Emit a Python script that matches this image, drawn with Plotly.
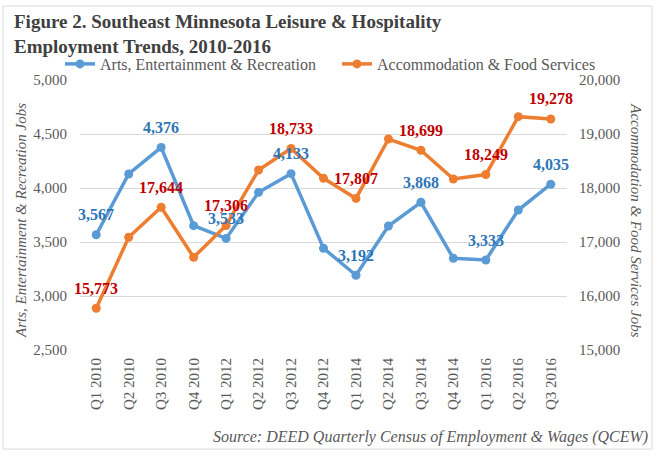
import plotly.graph_objects as go

categories = ["Q1 2010", "Q2 2010", "Q3 2010", "Q4 2010", "Q1 2012", "Q2 2012", "Q3 2012",
              "Q4 2012", "Q1 2014", "Q2 2014", "Q3 2014", "Q4 2014", "Q1 2016", "Q2 2016", "Q3 2016"]
arts = [3567, 4130, 4376, 3651, 3533, 3960, 4133, 3442, 3192, 3648, 3868, 3349, 3333, 3796, 4035]
accom = [15773, 17087, 17644, 16717, 17306, 18333, 18733, 18180, 17807, 18907, 18699, 18167, 18249, 19321, 19278]
label_idx = [0, 2, 4, 6, 8, 10, 12, 14]

arts_name = "Arts, Entertainment & Recreation"
accom_name = "Accommodation & Food Services"
title = "Figure 2. Southeast Minnesota Leisure & Hospitality<br>Employment Trends, 2010-2016"
source = "Source: DEED Quarterly Census of Employment & Wages (QCEW)"

FONT = "Liberation Serif"
GRAY = "#595959"
BLUE = "#5B9BD5"
ORANGE = "#ED7D31"
BLUE_LBL = "#2E75B6"
RED_LBL = "#C00000"

fig = go.Figure()
fig.add_trace(go.Scatter(x=categories, y=arts, name=arts_name, mode="lines+markers",
                         line=dict(color=BLUE, width=3.5), marker=dict(size=9, color=BLUE),
                         yaxis="y", legend="legend"))
fig.add_trace(go.Scatter(x=categories, y=accom, name=accom_name, mode="lines+markers",
                         line=dict(color=ORANGE, width=3.5), marker=dict(size=9, color=ORANGE),
                         yaxis="y2", legend="legend2"))

annotations = []
for i in label_idx:
    annotations.append(dict(x=categories[i], y=arts[i], xref="x", yref="y", text=f"{arts[i]:,}",
                            showarrow=False, yshift=20,
                            font=dict(family=FONT, size=16, color=BLUE_LBL, weight="bold")))
    annotations.append(dict(x=categories[i], y=accom[i], xref="x", yref="y2", text=f"{accom[i]:,}",
                            showarrow=False, yshift=20,
                            font=dict(family=FONT, size=16, color=RED_LBL, weight="bold")))

# title
annotations.append(dict(x=-0.1396, y=1.262, xref="paper", yref="paper", xanchor="left", yanchor="top",
                        align="left", text="<b>" + title + "</b>", showarrow=False,
                        font=dict(family=FONT, size=19, color="#404040")))
# axis titles
annotations.append(dict(x=-0.12, y=0.48, xref="paper", yref="paper", xanchor="center", yanchor="middle",
                        text="<i>Arts, Entertainment & Recreation Jobs</i>", textangle=-90, showarrow=False,
                        font=dict(family=FONT, size=15, color=GRAY)))
annotations.append(dict(x=1.14, y=0.48, xref="paper", yref="paper", xanchor="center", yanchor="middle",
                        text="<i>Accommodation & Food Services Jobs</i>", textangle=90, showarrow=False,
                        font=dict(family=FONT, size=15, color=GRAY)))
# source
annotations.append(dict(x=1.17, y=-0.322, xref="paper", yref="paper", xanchor="right", yanchor="middle",
                        text="<i>" + source + "</i>", showarrow=False,
                        font=dict(family=FONT, size=16, color=GRAY)))

legend_common = dict(orientation="h", yref="container", y=1 - 64 / 458, yanchor="middle",
                     xref="container", xanchor="left",
                     font=dict(family=FONT, size=16, color=GRAY), bgcolor="rgba(0,0,0,0)",
                     itemwidth=30)

fig.update_layout(
    width=661, height=458,
    margin=dict(l=80, r=94, t=80, b=108, autoexpand=False),
    paper_bgcolor="white", plot_bgcolor="white",
    font=dict(family=FONT, color=GRAY, size=15),
    showlegend=True,
    legend=dict(legend_common, x=60 / 661),
    legend2=dict(legend_common, x=337 / 661),
    xaxis=dict(type="category", range=[-0.5, 14.5], tickangle=-90, showgrid=False,
               showline=False, ticks="", tickfont=dict(family=FONT, size=15, color=GRAY),
               ticklabelstandoff=4, automargin=False),
    yaxis=dict(range=[2500, 5000], dtick=500, tickformat=",", showgrid=True, gridcolor="#D9D9D9",
               gridwidth=1, zeroline=False, showline=False, ticks="", automargin=False,
               tickfont=dict(family=FONT, size=15, color=GRAY), ticklabelstandoff=12),
    yaxis2=dict(range=[15000, 20000], dtick=1000, tickformat=",", overlaying="y", side="right",
                showgrid=False, zeroline=False, showline=False, ticks="", automargin=False,
                tickfont=dict(family=FONT, size=15, color=GRAY), ticklabelstandoff=11),
    annotations=annotations,
    shapes=[dict(type="rect", xref="paper", yref="paper", x0=-0.158, x1=1.1745, y0=-0.367, y1=1.274,
                 line=dict(color="#D9D9D9", width=1), fillcolor="rgba(0,0,0,0)", layer="below")],
)

fig.write_html("out.html", config={"displayModeBar": False},
               post_script="document.body.style.margin='0';")
